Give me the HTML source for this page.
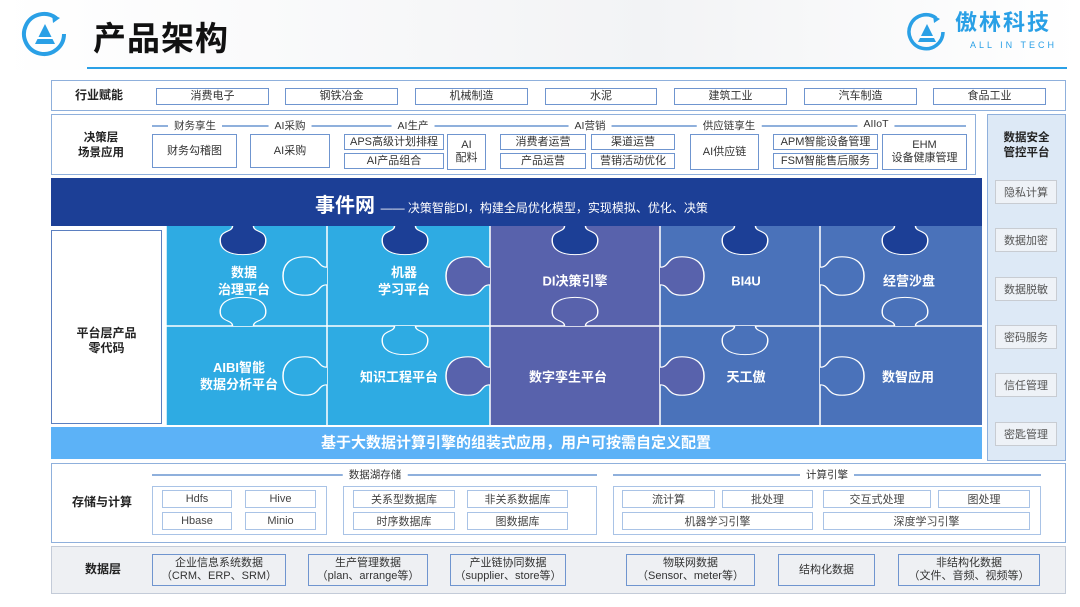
<!DOCTYPE html>
<html><head><meta charset="utf-8"><style>
*{margin:0;padding:0;box-sizing:border-box}
body{width:1080px;height:607px;background:#fff;position:relative;overflow:hidden;font-family:"Liberation Sans","Noto Sans CJK SC",sans-serif;color:#333}
.a{position:absolute}
.b{position:absolute;border:1.5px solid #6f95cf;background:#fff;font-size:11px;display:flex;align-items:center;justify-content:center;text-align:center;line-height:13px;color:#333}
.g{position:absolute;border:1.5px solid #a9c3e6;background:#fff;font-size:11px;display:flex;align-items:center;justify-content:center;color:#444}
.lbl{position:absolute;font-size:12px;font-weight:bold;color:#222;text-align:center;line-height:15px}
.t{position:absolute;font-size:10.5px;color:#333;background:#fff;padding:0 6px;transform:translateX(-50%)}
.ln{position:absolute;height:1.5px;background:#8fb0dc}
.s{position:absolute;left:995px;width:62px;height:24px;border:1.5px solid #c8ccd2;background:#eef2f7;font-size:11px;color:#555;display:flex;align-items:center;justify-content:center}
.w{position:absolute;color:#fff;font-size:13px;font-weight:bold;text-align:center;line-height:17px;transform:translate(-50%,-50%);white-space:nowrap}
</style></head><body>
<div class="a" style="left:0;top:0;width:1080px;height:70px;background:linear-gradient(90deg,#fff,#f2f3f5 60%,#fff)"></div>
<svg class="a" style="left:20px;top:10px" width="52" height="50"><path d="M36 8 A20 20 0 1 0 44 24" fill="none" stroke="#2aa0e6" stroke-width="4"/><path d="M32 4 L40 8 L33 13" fill="#2aa0e6"/><path d="M25 14 L35 34 L15 34Z" fill="#2aa0e6"/><rect x="17" y="27" width="16" height="2" fill="#fff"/></svg>
<div class="a" style="left:93px;top:12px;font-size:33px;font-weight:bold;color:#111;letter-spacing:1px">产品架构</div>
<div class="a" style="left:87px;top:67px;width:980px;height:2px;background:#2aa0e6"></div>
<svg class="a" style="left:906px;top:12px" width="44" height="44"><path d="M30 6 A17 17 0 1 0 37 20" fill="none" stroke="#2aa0e6" stroke-width="3.5"/><path d="M27 3 L34 7 L28 11" fill="#2aa0e6"/><path d="M21 12 L30 30 L12 30Z" fill="#2aa0e6"/><rect x="14" y="24" width="14" height="2" fill="#fff"/></svg>
<div class="a" style="left:955px;top:9px;font-size:22px;line-height:28px;font-weight:bold;color:#2aa0e6;letter-spacing:2px">傲林科技</div>
<div class="a" style="left:970px;top:40px;font-size:9px;line-height:10px;color:#2aa0e6;letter-spacing:3px">ALL IN TECH</div>

<!-- 行业赋能 -->
<div class="a" style="left:51px;top:80px;width:1015px;height:31px;border:1.5px solid #8fb0dc"></div>
<div class="lbl" style="left:75px;top:88px">行业赋能</div>
<div class="b" style="left:156px;top:88px;width:113px;height:17px">消费电子</div>
<div class="b" style="left:285px;top:88px;width:113px;height:17px">钢铁冶金</div>
<div class="b" style="left:415px;top:88px;width:113px;height:17px">机械制造</div>
<div class="b" style="left:545px;top:88px;width:112px;height:17px">水泥</div>
<div class="b" style="left:674px;top:88px;width:113px;height:17px">建筑工业</div>
<div class="b" style="left:804px;top:88px;width:113px;height:17px">汽车制造</div>
<div class="b" style="left:933px;top:88px;width:113px;height:17px">食品工业</div>

<!-- 决策层 -->
<div class="a" style="left:51px;top:114px;width:925px;height:61px;border:1.5px solid #8fb0dc"></div>
<div class="lbl" style="left:78px;top:131px;font-size:11.5px">决策层<br>场景应用</div>
<div class="ln" style="left:152px;top:125px;width:814px"></div>
<div class="t" style="left:195px;top:118px">财务享生</div>
<div class="t" style="left:290px;top:118px">AI采购</div>
<div class="t" style="left:413px;top:118px">AI生产</div>
<div class="t" style="left:590px;top:118px">AI营销</div>
<div class="t" style="left:729px;top:118px">供应链享生</div>
<div class="t" style="left:876px;top:118px">AIIoT</div>
<div class="b" style="left:152px;top:134px;width:85px;height:34px">财务勾稽图</div>
<div class="b" style="left:250px;top:134px;width:80px;height:34px">AI采购</div>
<div class="b" style="left:344px;top:134px;width:100px;height:16px">APS高级计划排程</div>
<div class="b" style="left:344px;top:153px;width:100px;height:16px">AI产品组合</div>
<div class="b" style="left:447px;top:134px;width:39px;height:36px">AI<br>配料</div>
<div class="b" style="left:500px;top:134px;width:86px;height:16px">消费者运营</div>
<div class="b" style="left:591px;top:134px;width:84px;height:16px">渠道运营</div>
<div class="b" style="left:500px;top:153px;width:86px;height:16px">产品运营</div>
<div class="b" style="left:591px;top:153px;width:84px;height:16px">营销活动优化</div>
<div class="b" style="left:690px;top:134px;width:69px;height:36px">AI供应链</div>
<div class="b" style="left:773px;top:134px;width:105px;height:16px">APM智能设备管理</div>
<div class="b" style="left:773px;top:153px;width:105px;height:16px">FSM智能售后服务</div>
<div class="b" style="left:882px;top:134px;width:85px;height:36px">EHM<br>设备健康管理</div>

<!-- 安全 -->
<div class="a" style="left:987px;top:114px;width:79px;height:347px;background:#dde9f6;border:1.5px solid #8fb0dc"></div>
<div class="lbl" style="left:987px;top:131px;width:79px;font-size:11.5px">数据安全<br>管控平台</div>
<div class="s" style="top:180px">隐私计算</div>
<div class="s" style="top:228px">数据加密</div>
<div class="s" style="top:277px">数据脱敏</div>
<div class="s" style="top:325px">密码服务</div>
<div class="s" style="top:373px">信任管理</div>
<div class="s" style="top:422px">密匙管理</div>

<!-- 事件网 + puzzle -->
<svg class="a" style="left:0;top:0" width="1080" height="607">
<defs><path id="k" d="M0,-11 C10,-11 6,-24 22,-24 C38,-24 44,-13 44,0 C44,13 38,24 22,24 C6,24 10,11 0,11"/></defs>
<rect x="51" y="178" width="931" height="48" fill="#1c3f96"/>
<rect x="166" y="226" width="324" height="199" fill="#2eabe3"/>
<rect x="490" y="226" width="170" height="199" fill="#5862ac"/>
<rect x="660" y="226" width="322" height="199" fill="#4a72ba"/>
<g stroke="#fff" stroke-width="1.5" fill="none">
<line x1="166" y1="326" x2="982" y2="326"/>
<line x1="327" y1="226" x2="327" y2="425"/><line x1="490" y1="226" x2="490" y2="425"/>
<line x1="660" y1="226" x2="660" y2="425"/><line x1="820" y1="226" x2="820" y2="425"/>
<line x1="166" y1="226" x2="166" y2="425"/>
</g>
<g stroke="#fff" stroke-width="1.5">
<use href="#k" transform="translate(327,276) rotate(180) scale(1,0.8)" fill="#2eabe3"/>
<use href="#k" transform="translate(327,376) rotate(180) scale(1,0.8)" fill="#2eabe3"/>
<use href="#k" transform="translate(490,276) rotate(180) scale(1,0.8)" fill="#5862ac"/>
<use href="#k" transform="translate(490,376) rotate(180) scale(1,0.8)" fill="#5862ac"/>
<use href="#k" transform="translate(660,276) scale(1,0.8)" fill="#5862ac"/>
<use href="#k" transform="translate(660,376) scale(1,0.8)" fill="#5862ac"/>
<use href="#k" transform="translate(820,276) scale(1,0.8)" fill="#4a72ba"/>
<use href="#k" transform="translate(820,376) scale(1,0.8)" fill="#4a72ba"/>
<use href="#k" transform="translate(243,326) rotate(-90) scale(0.65,0.95)" fill="#2eabe3"/>
<use href="#k" transform="translate(405,326) rotate(90) scale(0.65,0.95)" fill="#2eabe3"/>
<use href="#k" transform="translate(575,326) rotate(-90) scale(0.65,0.95)" fill="#5862ac"/>
<use href="#k" transform="translate(745,326) rotate(90) scale(0.65,0.95)" fill="#4a72ba"/>
<use href="#k" transform="translate(905,326) rotate(-90) scale(0.65,0.95)" fill="#4a72ba"/>
<use href="#k" transform="translate(243,226) rotate(90) scale(0.65,0.95)" fill="#1c3f96"/>
<use href="#k" transform="translate(405,226) rotate(90) scale(0.65,0.95)" fill="#1c3f96"/>
<use href="#k" transform="translate(575,226) rotate(90) scale(0.65,0.95)" fill="#1c3f96"/>
<use href="#k" transform="translate(745,226) rotate(90) scale(0.65,0.95)" fill="#1c3f96"/>
<use href="#k" transform="translate(905,226) rotate(90) scale(0.65,0.95)" fill="#1c3f96"/>
</g>
<rect x="51" y="427" width="931" height="32" fill="#5cb2f7"/>
</svg>
<div class="a" style="left:315px;top:189px;color:#fff;font-size:20px;font-weight:bold">事件网 <span style="font-size:12px;font-weight:normal">—— 决策智能DI，构建全局优化模型，实现模拟、优化、决策</span></div>
<div class="a" style="left:51px;top:230px;width:111px;height:194px;border:1.5px solid #5b7fc0;background:#fff"></div>
<div class="lbl" style="left:51px;top:326px;width:111px;font-size:12px">平台层产品<br>零代码</div>
<div class="w" style="left:244px;top:281px">数据<br>治理平台</div>
<div class="w" style="left:404px;top:281px">机器<br>学习平台</div>
<div class="w" style="left:575px;top:281px">DI决策引擎</div>
<div class="w" style="left:746px;top:281px">BI4U</div>
<div class="w" style="left:909px;top:281px">经营沙盘</div>
<div class="w" style="left:239px;top:376px">AIBI智能<br>数据分析平台</div>
<div class="w" style="left:399px;top:377px">知识工程平台</div>
<div class="w" style="left:568px;top:377px">数字孪生平台</div>
<div class="w" style="left:746px;top:377px">天工傲</div>
<div class="w" style="left:908px;top:377px">数智应用</div>
<div class="w" style="left:516px;top:443px;font-size:15px">基于大数据计算引擎的组装式应用，用户可按需自定义配置</div>

<!-- 存储与计算 -->
<div class="a" style="left:51px;top:463px;width:1015px;height:80px;border:1.5px solid #8fb0dc"></div>
<div class="lbl" style="left:72px;top:495px">存储与计算</div>
<div class="ln" style="left:152px;top:474px;width:445px"></div>
<div class="t" style="left:375px;top:467px">数据湖存储</div>
<div class="ln" style="left:613px;top:474px;width:428px"></div>
<div class="t" style="left:827px;top:467px">计算引擎</div>
<div class="a" style="left:152px;top:486px;width:175px;height:49px;border:1.5px solid #a9c3e6"></div>
<div class="a" style="left:343px;top:486px;width:254px;height:49px;border:1.5px solid #a9c3e6"></div>
<div class="a" style="left:613px;top:486px;width:428px;height:49px;border:1.5px solid #a9c3e6"></div>
<div class="g" style="left:162px;top:490px;width:70px;height:18px">Hdfs</div>
<div class="g" style="left:245px;top:490px;width:71px;height:18px">Hive</div>
<div class="g" style="left:162px;top:512px;width:70px;height:18px">Hbase</div>
<div class="g" style="left:245px;top:512px;width:71px;height:18px">Minio</div>
<div class="g" style="left:353px;top:490px;width:102px;height:18px">关系型数据库</div>
<div class="g" style="left:467px;top:490px;width:101px;height:18px">非关系数据库</div>
<div class="g" style="left:353px;top:512px;width:102px;height:18px">时序数据库</div>
<div class="g" style="left:467px;top:512px;width:101px;height:18px">图数据库</div>
<div class="g" style="left:622px;top:490px;width:93px;height:18px">流计算</div>
<div class="g" style="left:722px;top:490px;width:91px;height:18px">批处理</div>
<div class="g" style="left:823px;top:490px;width:108px;height:18px">交互式处理</div>
<div class="g" style="left:938px;top:490px;width:92px;height:18px">图处理</div>
<div class="g" style="left:622px;top:512px;width:191px;height:18px">机器学习引擎</div>
<div class="g" style="left:823px;top:512px;width:207px;height:18px">深度学习引擎</div>

<!-- 数据层 -->
<div class="a" style="left:51px;top:546px;width:1015px;height:48px;border:1.5px solid #c3cbd8;background:#eef0f3"></div>
<div class="lbl" style="left:85px;top:562px">数据层</div>
<div class="b" style="left:152px;top:554px;width:134px;height:32px;background:#eef0f3">企业信息系统数据<br>（CRM、ERP、SRM）</div>
<div class="b" style="left:308px;top:554px;width:120px;height:32px;background:#eef0f3">生产管理数据<br>（plan、arrange等）</div>
<div class="b" style="left:450px;top:554px;width:116px;height:32px;background:#eef0f3">产业链协同数据<br>（supplier、store等）</div>
<div class="b" style="left:626px;top:554px;width:129px;height:32px;background:#eef0f3">物联网数据<br>（Sensor、meter等）</div>
<div class="b" style="left:778px;top:554px;width:97px;height:32px;background:#eef0f3">结构化数据</div>
<div class="b" style="left:898px;top:554px;width:142px;height:32px;background:#eef0f3">非结构化数据<br>（文件、音频、视频等）</div>
</body></html>
